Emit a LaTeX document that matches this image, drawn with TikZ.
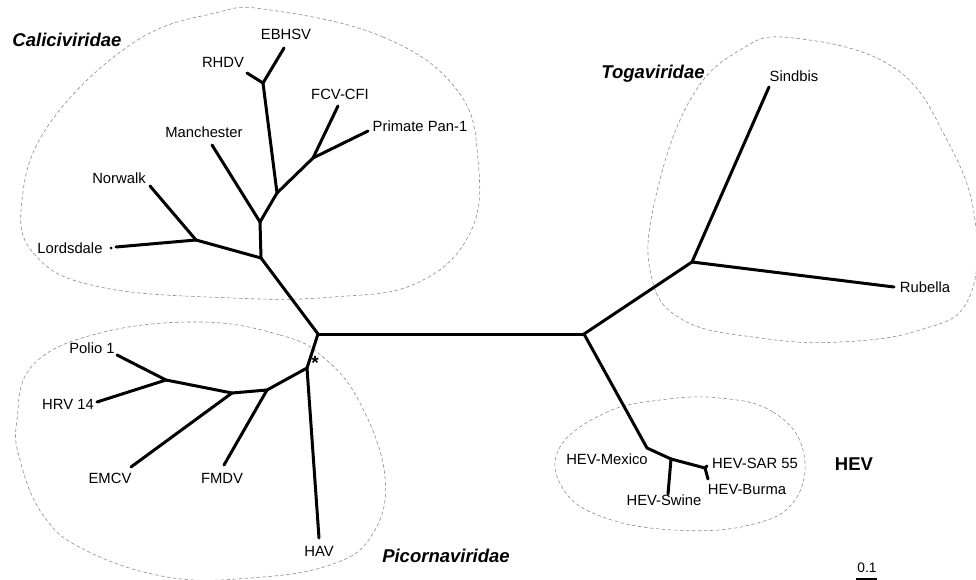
\documentclass[tikz,border=0pt]{standalone}
\usepackage{fontspec}
\setmainfont{Liberation Sans}
\begin{document}
\begin{tikzpicture}[x=1pt,y=-1pt,
  br/.style={line width=3pt, line cap=round, line join=round},
  tip/.style={font=\fontsize{14.8}{17}\selectfont, inner sep=0pt, text height=10.6pt, text depth=0pt},
  fam/.style={font=\fontsize{18.5}{20}\selectfont\bfseries\itshape, inner sep=0pt, text height=13.2pt, text depth=0pt},
  grp/.style={font=\fontsize{18.5}{20}\selectfont\bfseries, inner sep=0pt, text height=13.2pt, text depth=0pt},
  blob/.style={draw=black!45, dash pattern=on 3.5pt off 2.5pt, line width=0.6pt}
]
\useasboundingbox (0,0) rectangle (976,580);

% dashed group outlines
\draw[blob] plot[smooth cycle, tension=0.7] coordinates {
  (270,10) (383,37) (457,90) (478,160) (470,233) (417,283) (333,297)
  (233,298) (100,287) (35,255) (22,200) (50,123) (133,43) (215,13)};
\draw[blob] plot[smooth cycle, tension=0.7] coordinates {
  (200,322) (280,335) (323,357) (360,403) (385,477) (372,535) (330,565)
  (250,578) (167,577) (85,550) (43,515) (20,460) (17,420) (33,365) (100,333)};
\draw[blob] plot[smooth cycle, tension=0.7] coordinates {
  (793,38) (893,67) (947,140) (975,220) (968,300) (920,330) (840,342)
  (760,338) (683,320) (651,275) (655,200) (690,100) (740,50)};
\draw[blob] plot[smooth cycle, tension=0.7] coordinates {
  (720,398) (773,412) (803,450) (795,500) (750,525) (673,530) (600,516)
  (562,487) (560,447) (605,413) (660,400)};

% branch points
\coordinate (root) at (318,334);
\coordinate (hub) at (584,334);
\coordinate (c1) at (261,258);
\coordinate (c2) at (260,222);
\coordinate (c3) at (277,193);
\coordinate (c4) at (263,83);
\coordinate (c5) at (313,158);
\coordinate (c6) at (196,240);
\coordinate (p1) at (307,368);
\coordinate (p2) at (267,390);
\coordinate (p3) at (232,393);
\coordinate (p4) at (166,380);
\coordinate (h1) at (647,448);
\coordinate (h2) at (671,459);
\coordinate (h3) at (705,468);
\coordinate (g1) at (692,262);
% tips
\coordinate (tEBHSV) at (284,48);
\coordinate (tRHDV) at (247,73);
\coordinate (tFCV) at (338,106);
\coordinate (tPrim) at (368,131);
\coordinate (tMan) at (212,145);
\coordinate (tNor) at (150,186);
\coordinate (tLor) at (116,247);
\coordinate (tHAV) at (319,538);
\coordinate (tFMDV) at (224,465);
\coordinate (tEMCV) at (131,467);
\coordinate (tPol) at (117,355);
\coordinate (tHRV) at (97,402);
\coordinate (tSwi) at (668,494);
\coordinate (tSAR) at (707,466);
\coordinate (tBur) at (708,479);
\coordinate (tSin) at (769,87);
\coordinate (tRub) at (894,287);

% branches
\draw[br] (root) -- (hub);
\draw[br] (root) -- (c1);
\draw[br] (c1) -- (c2);
\draw[br] (c2) -- (c3);
\draw[br] (c3) -- (c4);
\draw[br] (c4) -- (tEBHSV);
\draw[br] (c4) -- (tRHDV);
\draw[br] (c3) -- (c5);
\draw[br] (c5) -- (tFCV);
\draw[br] (c5) -- (tPrim);
\draw[br] (c2) -- (tMan);
\draw[br] (c1) -- (c6);
\draw[br] (c6) -- (tNor);
\draw[br] (c6) -- (tLor);
\fill (111,248) circle (1.5pt);
\draw[br] (root) -- (p1);
\draw[br] (p1) -- (tHAV);
\draw[br] (p1) -- (p2);
\draw[br] (p2) -- (tFMDV);
\draw[br] (p2) -- (p3);
\draw[br] (p3) -- (tEMCV);
\draw[br] (p3) -- (p4);
\draw[br] (p4) -- (tPol);
\draw[br] (p4) -- (tHRV);
\draw[br] (hub) -- (h1);
\draw[br] (h1) -- (h2);
\draw[br] (h2) -- (tSwi);
\draw[br] (h2) -- (h3);
\draw[br] (h3) -- (tSAR);
\draw[br] (h3) -- (tBur);
\draw[br] (hub) -- (g1);
\draw[br] (g1) -- (tSin);
\draw[br] (g1) -- (tRub);

% tip labels
\node[tip] (lEBHSV) at (286,34) {EBHSV};
\node[tip] (lRHDV) at (223,62) {RHDV};
\node[tip] (lFCV) at (340,94) {FCV-CFI};
\node[tip] (lPrim) at (420,126) {Primate Pan-1};
\node[tip] (lMan) at (204,132) {Manchester};
\node[tip] (lNor) at (119,178) {Norwalk};
\node[tip] (lLor) at (70,248) {Lordsdale};
\node[tip] (lPol) at (92,348) {Polio 1};
\node[tip] (lHRV) at (68,404) {HRV 14};
\node[tip] (lEMCV) at (110,478) {EMCV};
\node[tip] (lFMDV) at (222,478) {FMDV};
\node[tip] (lHAV) at (319,551) {HAV};
\node[inner sep=0pt, font=\fontsize{19}{20}\selectfont\bfseries] (star) at (315,363) {*};
\node[tip] (lMex) at (607,459) {HEV-Mexico};
\node[tip] (lSAR) at (755,463) {HEV-SAR 55};
\node[tip] (lSwi) at (664,500) {HEV-Swine};
\node[tip] (lBur) at (747,489) {HEV-Burma};
\node[tip] (lSin) at (794,76) {Sindbis};
\node[tip] (lRub) at (925,287) {Rubella};

% group labels
\node[fam] (fCal) at (67,40) {Caliciviridae};
\node[fam] (fTog) at (653,72) {Togaviridae};
\node[fam] (fPic) at (446,556) {Picornaviridae};
\node[grp] (fHEV) at (854,464) {HEV};

% scale bar
\coordinate (s0) at (856,578.8);
\coordinate (s1) at (877,578.8);
\draw[line width=1.5pt] (s0) -- (s1);
\node[tip, font=\fontsize{13.8}{15}\selectfont] (sl) at (867,567) {0.1};
\end{tikzpicture}
\end{document}
